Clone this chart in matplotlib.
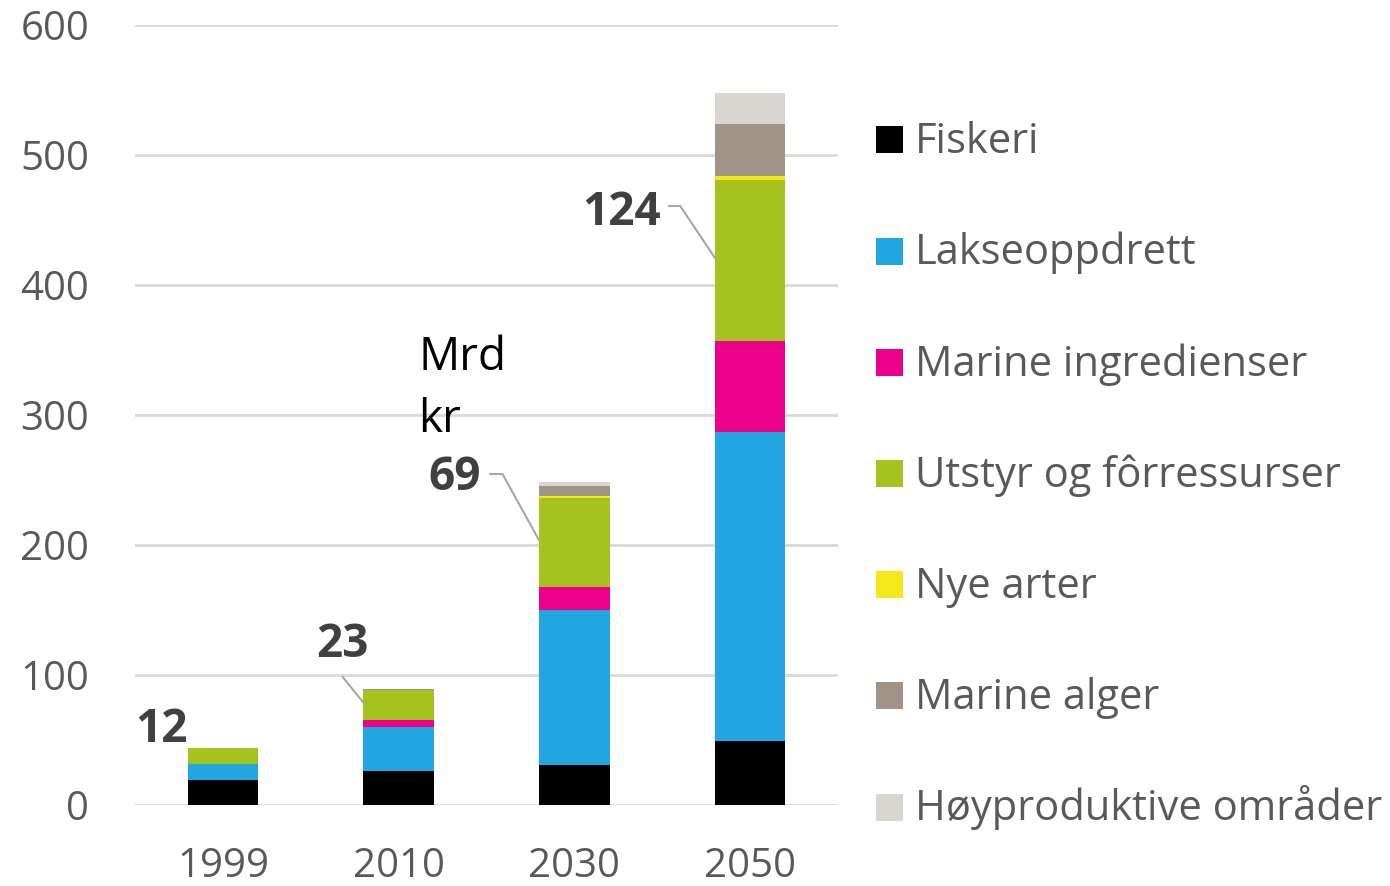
import matplotlib
matplotlib.use("Agg")
import matplotlib.pyplot as plt
from matplotlib.patches import Rectangle
import numpy as np

plt.rcParams['font.family'] = ['Open Sans', 'DejaVu Sans']

years = ['1999', '2010', '2030', '2050']
series_names = ['Fiskeri', 'Lakseoppdrett', 'Marine ingredienser',
                'Utstyr og fôrressurser', 'Nye arter', 'Marine alger',
                'Høyproduktive områder']
fiskeri = [19.5, 26, 31, 49]
lakseoppdrett = [12, 34, 119, 238]
marine_ingredienser = [0, 5.5, 17.5, 70]
utstyr = [12, 23, 69, 124]
nye_arter = [0, 0, 1.3, 2.5]
marine_alger = [0, 0.6, 7.7, 40]
hoyproduktive = [0, 0, 3.3, 24.5]
colors = ['#000000', '#22a6e2', '#ec008c', '#a5c21f', '#f5e81a', '#a09488', '#d9d6d1']
label_values = ['12', '23', '69', '124']

W, H = 1390, 886
fig = plt.figure(figsize=(W / 100, H / 100), dpi=100)
ax = fig.add_axes([135 / W, 1 - 805 / H, (838 - 135) / W, (805 - 25) / H])

data = [fiskeri, lakseoppdrett, marine_ingredienser, utstyr, nye_arter, marine_alger, hoyproduktive]
x = np.arange(len(years))
bottom = np.zeros(len(years))
for vals, c in zip(data, colors):
    v = np.array(vals, dtype=float)
    ax.bar(x, v, width=0.4, bottom=bottom, color=c, edgecolor='none', zorder=3)
    bottom += v

ax.set_xlim(-0.5, 3.5)
ax.set_ylim(0, 600)
ax.set_yticks(np.arange(0, 601, 100))
ax.set_xticks(x)
ax.set_xticklabels(years)
ax.grid(axis='y', color='#d9d9d9', linewidth=2, zorder=0)
for s in ax.spines.values():
    s.set_visible(False)
ax.tick_params(axis='both', length=0, labelsize=29, colors='#595959')
ax.tick_params(axis='y', pad=33)
ax.tick_params(axis='x', pad=30)


def px2data(px, py):
    return (px - 222) / 176.0, (805 - py) / 1.3


# value labels (Utstyr og fôrressurser segment)
label_pos = [(161, 742), (342, 657), (454, 490), (621, 225)]
for lbl, (px, py) in zip(label_values, label_pos):
    dx, dy = px2data(px, py)
    ax.text(dx, dy, lbl, ha='center', va='baseline', fontsize=33,
            fontweight='bold', color='#404040', zorder=5)

# leader lines
leaders = [
    None,
    [(342, 677), (363, 703)],
    [(490, 474), (502, 474), (538.5, 540)],
    [(669, 206), (680, 206), (715.5, 259)],
]
for pts in leaders:
    if pts is None:
        continue
    xs, ys = zip(*[px2data(p, q) for p, q in pts])
    ax.plot(xs, ys, color='#a6a6a6', linewidth=1.5, zorder=4, clip_on=False)

mx, my1 = px2data(418, 370)
_, my2 = px2data(418, 432)
ax.text(mx, my1, 'Mrd', ha='left', va='baseline', fontsize=33, color='#000000')
ax.text(mx, my2, 'kr', ha='left', va='baseline', fontsize=33, color='#000000')

# legend
row0, step = 153.3, 111.2
for i, (name, c) in enumerate(zip(series_names, colors)):
    yb = row0 + i * step
    fig.patches.append(Rectangle((876 / W, 1 - yb / H), 27 / W, 27 / H,
                                 transform=fig.transFigure, facecolor=c,
                                 edgecolor='none'))
    fig.text(915 / W, 1 - yb / H, name, ha='left', va='baseline',
             fontsize=30, color='#595959')

fig.savefig('out.png', dpi=100)
